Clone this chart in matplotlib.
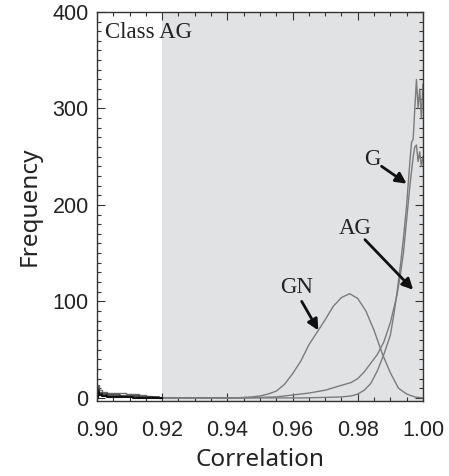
import numpy as np
import matplotlib
matplotlib.use("Agg")
import matplotlib.pyplot as plt
from matplotlib.ticker import MultipleLocator

# correlation histograms for class AG against the three templates
gn_x = [0.920, 0.9225, 0.925, 0.9275, 0.930, 0.9325, 0.935, 0.9375, 0.940, 0.9425,
        0.945, 0.9475, 0.950, 0.9525, 0.955, 0.9575, 0.960, 0.9625, 0.965, 0.9675,
        0.970, 0.9725, 0.975, 0.9775, 0.980, 0.9825, 0.985, 0.9875, 0.990, 0.9925,
        0.995, 0.9975, 1.000]
gn_y = [0, 0, 0, 0, 0, 0, 0, 0, 0, 0,
        0.5, 1, 2, 4, 7, 14, 25, 38, 55, 68,
        81, 95, 104, 108, 103, 90, 70, 46, 26, 10,
        4, 1, 0]

ag_x = [0.920, 0.930, 0.940, 0.945, 0.950, 0.955, 0.960, 0.965, 0.970, 0.975,
        0.978, 0.980, 0.982, 0.984, 0.986, 0.988, 0.990, 0.991, 0.992, 0.993,
        0.994, 0.995, 0.996, 0.997, 0.9975, 0.998, 0.9985, 0.999, 0.9995, 1.000]
ag_y = [0, 0, 0, 0, 0.5, 1, 3, 5, 8, 13,
        16, 20, 27, 36, 45, 58, 78, 92, 106, 126,
        150, 185, 220, 250, 260, 262, 245, 255, 240, 250]

g_x = [0.920, 0.930, 0.940, 0.950, 0.963, 0.970, 0.975, 0.978, 0.980, 0.982,
       0.984, 0.986, 0.988, 0.990, 0.991, 0.992, 0.993, 0.994, 0.995, 0.9955,
       0.996, 0.9965, 0.997, 0.9975, 0.998, 0.9985, 0.999, 0.9995, 1.000]
g_y = [0, 0, 0, 0, 0, 0.5, 1, 2, 4, 8,
       15, 28, 45, 65, 85, 108, 135, 165, 200, 223,
       245, 265, 268, 300, 330, 300, 320, 290, 325]

# low-correlation tail (below the shaded window)
low_x = [0.900, 0.9005, 0.901, 0.902, 0.904, 0.906, 0.908, 0.910, 0.912, 0.914,
         0.916, 0.918, 0.920]
low_a = [0, 13, 8, 6, 5, 5, 5, 4, 4, 3, 2, 1, 0]
low_b = [0, 9, 5, 4, 3, 3, 2, 2, 2, 1, 1, 1, 0]
low_c = [0, 6, 3, 2, 1, 1, 1, 1, 0, 0, 0, 0, 0]

window = (0.92, 1.00)

fig = plt.figure(figsize=(4.49, 4.76), dpi=100)
ax = fig.add_axes([0.216, 0.158, 0.726, 0.817])

ax.axvspan(*window, color="#e1e2e4", lw=0, zorder=0)

line = dict(color="#7b7b7b", lw=1.0, zorder=2)
ax.plot(gn_x, gn_y, **line)
ax.plot(ag_x, ag_y, **line)
ax.plot(g_x, g_y, **line)

ax.plot(low_x, low_a, color="#6a6a6a", lw=1.0, drawstyle="steps-mid")
ax.plot(low_x, low_b, color="#333333", lw=1.2, drawstyle="steps-mid")
ax.plot(low_x, low_c, color="#111111", lw=1.5, drawstyle="steps-mid")

ax.set_xlim(0.90, 1.00)
ax.set_ylim(-3, 400)
ax.xaxis.set_major_locator(MultipleLocator(0.02))
ax.xaxis.set_minor_locator(MultipleLocator(0.005))
ax.yaxis.set_major_locator(MultipleLocator(100))
ax.yaxis.set_minor_locator(MultipleLocator(10))
ax.tick_params(which="both", direction="in", top=True, right=True,
               color="#333333", width=0.8)
ax.tick_params(which="major", length=6)
ax.tick_params(which="minor", length=3)
ax.tick_params(axis="x", which="major", pad=14)
ax.tick_params(axis="y", which="major", pad=6)
ax.set_xticklabels([f"{v:.2f}" for v in ax.get_xticks()])
for lab in ax.get_xticklabels() + ax.get_yticklabels():
    lab.set_family("Liberation Sans")
    lab.set_fontsize(15.5)
    lab.set_color("#222222")
for s in ax.spines.values():
    s.set_color("#333333")
    s.set_linewidth(1.0)

ax.set_xlabel("Correlation", family="Noto Sans", fontsize=17.5, color="#222222", labelpad=5)
ax.set_ylabel("Frequency", family="Noto Sans", fontsize=17.5, color="#222222", labelpad=8)

serif = dict(family="Liberation Serif", fontsize=16.5, color="#222222")
ax.text(0.9025, 379, "Class AG", va="center", ha="left", **serif)

arrow = dict(arrowstyle="-|>", color="#111111", lw=2.0, mutation_scale=16,
             shrinkA=0, shrinkB=0)
ax.annotate("", xy=(0.9950, 222), xytext=(0.9873, 240), arrowprops=arrow)
ax.text(0.9844, 247, "G", ha="center", va="center", **serif)
ax.annotate("", xy=(0.9970, 112), xytext=(0.9822, 164), arrowprops=arrow)
ax.text(0.9791, 176, "AG", ha="center", va="center", **serif)
ax.annotate("", xy=(0.9679, 70), xytext=(0.9628, 100), arrowprops=arrow)
ax.text(0.9613, 114, "GN", ha="center", va="center", **serif)

fig.savefig("out.png", dpi=100)
